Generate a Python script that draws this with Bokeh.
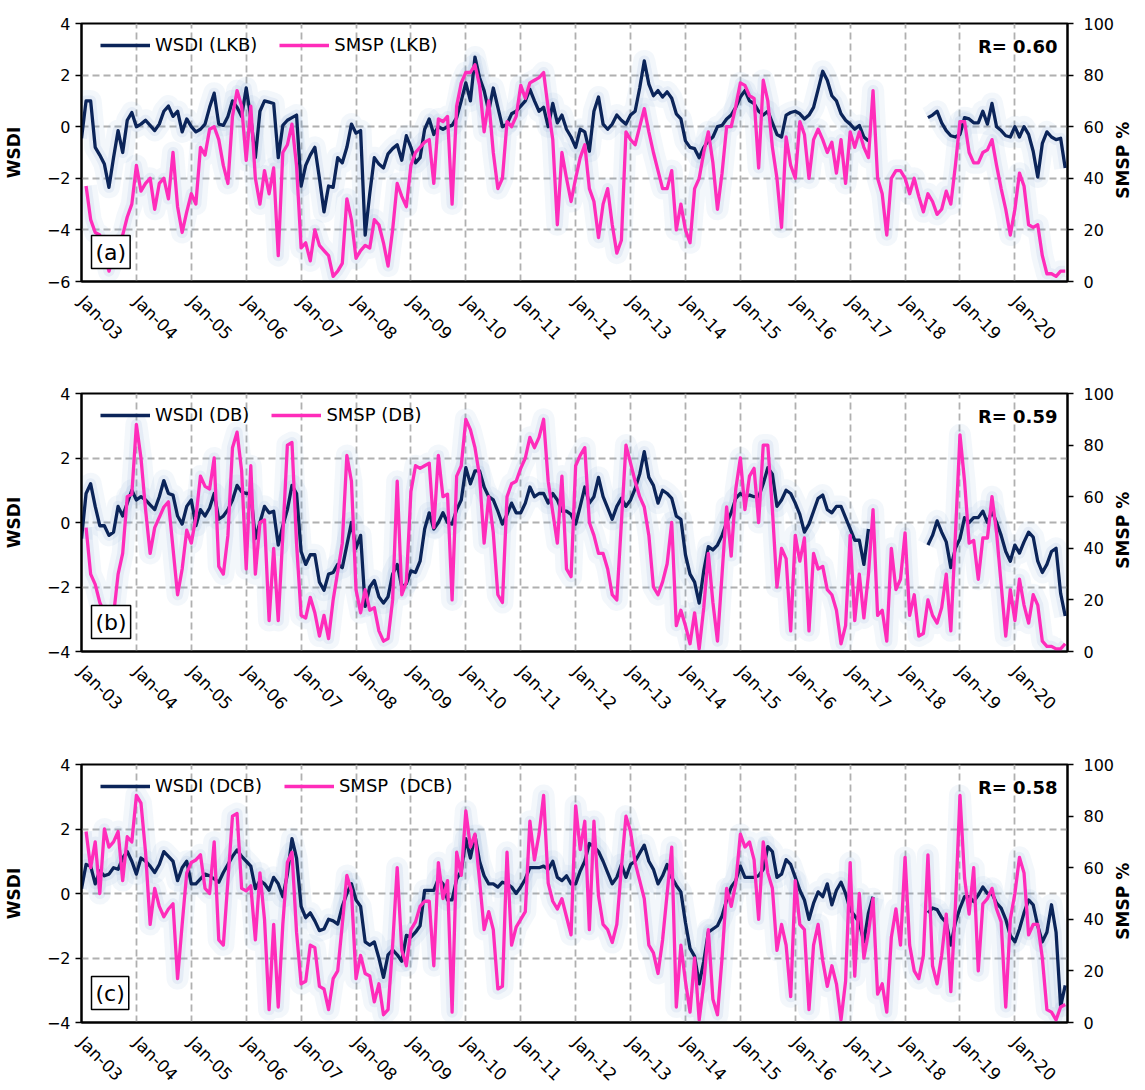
import numpy as np
from math import pi
from bokeh.plotting import figure
from bokeh.models import (Range1d, LinearAxis, FixedTicker, Legend, LegendItem,
                          Label, ColumnDataSource)
from bokeh.layouts import column
from bokeh.embed import file_html
from bokeh.resources import INLINE

N = None
years = list(range(2003, 2021))
months = [f"{m}-{y % 100:02d}" for y in years for m in
          ["Jan", "Feb", "Mar", "Apr", "May", "Jun", "Jul", "Aug", "Sep", "Oct", "Nov", "Dec"]]
tick_labels = [f"Jan-{y % 100:02d}" for y in years]

# ---------------- Panel (a) LKB ----------------
lkb_wsdi = [
    -0.45, 1.0, 1.0, -0.8, -1.1, -1.45, -2.35, -1.2, -0.15, -1.0, 0.25, 0.55,
    0.0, 0.1, 0.25, 0.05, -0.15, 0.1, 0.6, 0.8, 0.4, 0.6, -0.2, 0.3,
    0.0, -0.2, -0.1, 0.1, 0.75, 1.3, 0.1, 0.05, 0.4, 1.0, 0.75, 0.4,
    1.5, 0.35, -1.2, 0.6, 1.0, 0.95, 0.9, -1.2, 0.05, 0.25, 0.35, 0.45,
    -2.3, -1.5, -1.1, -0.8, -2.0, -3.3, -2.3, -2.35, -1.2, -1.4, -0.8, 0.1,
    -0.25, -0.15, -4.2, -2.6, -1.2, -1.45, -1.6, -1.05, -0.85, -0.7, -1.3, -0.35,
    -0.8, -1.4, -1.2, -0.1, 0.3, -0.3, 0.0, -0.1, 0.0, 0.05, 0.35, 1.0,
    1.7, 1.0, 2.7, 1.9, 1.4, 0.6, 1.5, 0.75, 0.0, 0.1, 0.5, 0.6,
    0.8, 1.0, 1.45, 1.0, 0.6, 0.75, 0.0, 0.9, 0.15, 0.45, -0.1, -0.4,
    -0.8, -0.1, -0.2, -0.95, 0.6, 1.15, 0.1, -0.1, 0.1, 0.45, 0.25, 0.1,
    0.45, 0.6, 1.5, 2.55, 1.65, 1.2, 1.4, 1.15, 1.35, 1.1, 0.5, 0.3,
    -0.55, -0.8, -0.85, -1.2, -0.8, -0.55, -0.4, 0.0, 0.05, 0.3, 0.45, 0.75,
    1.15, 1.4, 1.0, 0.9, 0.6, 0.45, 0.6, 0.15, -0.3, -0.4, 0.45, 0.55,
    0.6, 0.5, 0.3, 0.45, 0.75, 1.45, 2.15, 1.8, 1.2, 1.0, 0.5, 0.25,
    0.1, -0.1, 0.05, -0.4, -0.55, N, N, N, N, N, N, N,
    N, N, N, N, N, 0.35, 0.45, 0.6, 0.15, -0.15, -0.35, -0.4,
    -0.3, 0.35, 0.3, 0.15, 0.15, 0.6, 0.1, 0.9, 0.0, -0.15, -0.35, -0.4,
    0.0, -0.4, 0.0, -0.3, -0.95, -1.95, -0.65, -0.2, -0.4, -0.5, -0.45, -1.6,
]
lkb_smsp = [
    N, 37, 24, 19, 18, 11, 4, 10, 16, 18, 25, 30,
    45, 35, 38, 40, 28, 38, 40, 32, 50, 29, 19, 27,
    34, 30, 52, 49, 59, 60, 55, 45, 38, 64, 74, 68,
    47, 68, 40, 30, 43, 34, 44, 10, 50, 53, 61, 45,
    13, 15, 8, 20, 14, 12, 10, 2, 4, 7, 32, 24,
    9, 12, 14, 13, 24, 22, 15, 6, 20, 38, 33, 29,
    45, 50, 52, 54, 55, 38, 63, 62, 64, 30, 68, 77,
    81, 81, 84, 76, 58, 70, 50, 36, 40, 62, 60, 64,
    76, 71, 77, 78, 79, 81, 67, 55, 22, 50, 40, 31,
    40, 48, 53, 36, 31, 17, 30, 36, 22, 11, 16, 58,
    55, 53, 60, 67, 58, 50, 43, 36, 36, 43, 20, 30,
    20, 15, 36, 40, 50, 58, 46, 28, 42, 60, 60, 68,
    77, 76, 72, 71, 44, 78, 70, 52, 40, 21, 56, 45,
    40, 62, 57, 40, 55, 59, 55, 50, 54, 42, 55, 38,
    58, 52, 58, 52, 48, 74, 40, 34, 18, 40, 43, 43,
    40, 34, 40, 33, 27, 34, 31, 26, 28, 35, 30, 45,
    62, 62, 50, 46, 46, 50, 51, 55, 45, 36, 28, 18,
    28, 42, 37, 22, 21, 22, 10, 3, 3, 2, 4, 4,
]

# ---------------- Panel (b) DB ----------------
db_wsdi = [
    -0.5, 0.9, 1.2, 0.5, -0.1, -0.1, -0.4, -0.3, 0.5, 0.2, 0.6, 1.0,
    0.7, 0.8, 0.7, 0.55, 0.4, 0.8, 1.3, 0.9, 0.85, 0.2, -0.05, 0.5,
    0.7, -0.1, 0.4, 0.2, 0.45, 0.9, 0.1, 0.2, 0.4, 0.7, 1.15, 0.95,
    0.9, 0.9, -0.5, 0.0, 0.5, 0.3, 0.35, -0.7, -0.1, 0.4, 1.15, 0.9,
    -0.9, -1.3, -1.0, -1.0, -1.85, -2.1, -1.6, -1.55, -1.3, -1.4, -0.7, 0.0,
    -0.8, -0.4, -2.6, -2.0, -1.8, -2.3, -2.5, -2.3, -1.6, -1.3, -2.0, -1.9,
    -1.5, -1.55, -1.2, -0.2, 0.3, -0.2, 0.0, 0.3, 0.0, -0.05, 0.4, 0.7,
    1.7, 1.2, 1.6, 1.6, 1.1, 0.8, 0.7, 0.35, -0.05, 0.25, 0.6, 0.3,
    0.3, 0.6, 1.1, 0.8, 0.9, 0.9, 0.6, 0.9, 0.7, 0.35, 0.35, 0.25,
    -0.05, 0.5, 1.1, 0.6, 0.8, 1.4, 0.8, 0.45, 0.1, 0.5, 0.75, 0.5,
    0.7, 1.05, 1.5, 2.2, 1.4, 1.15, 0.6, 1.0, 0.9, 0.75, 0.2, 0.1,
    -1.0, -1.6, -1.85, -2.5, -1.5, -0.75, -0.85, -0.7, -0.4, 0.0, 0.3, 0.75,
    0.9, 0.8, 0.85, 0.8, 0.8, 1.2, 1.7, 1.5, 0.5, 0.7, 1.0, 0.9,
    0.6, 0.25, -0.3, -0.05, 0.35, 0.75, 0.85, 0.4, 0.3, 0.5, 0.5, 0.15,
    -0.2, -0.55, -0.55, -1.3, -0.2, N, N, N, N, N, N, N,
    N, N, N, N, N, -0.7, -0.4, 0.05, -0.3, -0.6, -1.4, -0.8,
    -0.5, 0.15, 0.0, 0.15, 0.15, 0.35, 0.0, 0.35, 0.0, -0.4, -0.9, -1.2,
    -0.7, -0.95, -0.6, -0.3, -0.45, -1.2, -1.55, -1.3, -0.9, -0.8, -2.2, -2.9,
]
db_smsp = [
    N, 48, 30, 26, 19, 15, 14, 14, 30, 38, 60, 61,
    88, 75, 55, 38, 48, 52, 56, 58, 40, 22, 32, 47,
    42, 52, 68, 64, 63, 75, 33, 30, 45, 79, 85, 70,
    32, 72, 30, 50, 51, 12, 40, 12, 45, 80, 81, 42,
    14, 13, 21, 15, 6, 14, 5, 20, 31, 42, 76, 66,
    24, 15, 24, 16, 17, 8, 4, 5, 20, 66, 22, 27,
    62, 72, 71, 72, 73, 48, 76, 60, 61, 20, 68, 72,
    90, 86, 79, 68, 42, 60, 46, 22, 19, 60, 65, 66,
    71, 75, 83, 79, 83, 90, 66, 54, 42, 68, 32, 29,
    72, 76, 79, 50, 45, 38, 38, 32, 22, 20, 50, 80,
    73, 66, 60, 56, 45, 25, 22, 27, 34, 50, 10, 16,
    10, 3, 15, 1, 17, 38, 19, 4, 30, 56, 37, 63,
    75, 55, 68, 71, 50, 80, 80, 55, 25, 40, 36, 8,
    45, 35, 44, 8, 38, 32, 33, 24, 22, 16, 3, 10,
    45, 12, 30, 13, 30, 55, 14, 16, 4, 40, 24, 28,
    46, 14, 22, 6, 7, 20, 14, 11, 17, 30, 8, 45,
    84, 66, 42, 43, 28, 44, 44, 60, 46, 26, 6, 24,
    12, 28, 18, 11, 22, 18, 4, 2, 2, 1, 1, 3,
]

# ---------------- Panel (c) DCB ----------------
dcb_wsdi = [
    0.15, 0.9, 0.85, 0.3, 0.7, 0.55, 0.6, 0.8, 0.75, 1.1, 1.3, 1.0,
    0.6, 1.1, 1.0, 0.85, 0.65, 0.9, 1.3, 1.15, 1.0, 0.4, 0.8, 1.0,
    0.3, 0.3, 0.45, 0.6, 0.55, 0.45, 0.35, 0.65, 0.9, 1.15, 1.35, 1.15,
    1.0, 0.85, 0.15, 0.4, 0.3, 0.1, 0.5, 0.3, -0.1, 0.6, 1.7, 1.1,
    -0.4, -0.75, -0.6, -0.85, -1.15, -1.1, -0.8, -0.85, -0.95, -0.4, 0.0, 0.3,
    -0.2, -0.4, -1.5, -1.6, -1.5, -2.0, -2.6, -1.9, -1.75, -1.9, -2.1, -1.3,
    -1.35, -1.2, -1.0, 0.1, 0.1, 0.1, 0.45, 0.3, -0.2, -0.2, 0.45, 0.7,
    1.7, 1.1, 1.8, 1.0, 0.55, 0.3, 0.3, 0.2, 0.35, 0.3, 0.2, 0.0,
    0.2, 0.45, 0.8, 0.8, 0.8, 0.85, 0.75, 1.0, 0.5, 0.4, 0.55, 0.3,
    0.3, 0.7, 1.0, 1.55, 1.45, 1.3, 1.0, 0.65, 0.3, 0.5, 0.9, 0.5,
    0.9, 1.0, 1.25, 1.5, 1.0, 0.75, 0.3, 0.55, 0.9, 0.5, 0.25, 0.05,
    -0.9, -1.7, -1.95, -2.8, -2.1, -1.2, -1.1, -1.0, -0.7, -0.2, 0.2, 0.4,
    0.85, 0.5, 0.5, 0.5, 0.55, 0.75, 1.45, 1.3, 0.5, 0.6, 1.05, 0.9,
    0.5, 0.1, -0.2, -0.8, -0.3, 0.05, -0.1, 0.3, -0.35, 0.1, 0.35, 0.0,
    -0.5, -0.7, -0.9, -1.5, -0.6, -0.1, N, N, N, N, N, N,
    N, N, N, N, N, -0.6, -0.45, -0.5, -0.75, -0.9, -1.6, -0.9,
    -0.45, -0.1, -0.1, -0.25, -0.05, 0.2, 0.0, 0.0, -0.3, -0.45, -0.8, -1.3,
    -1.5, -1.1, -0.6, -0.2, -0.35, -1.0, -1.5, -1.2, -0.35, -1.2, -3.5, -2.85,
]
dcb_smsp = [
    N, 74, 60, 70, 50, 75, 68, 70, 74, 55, 72, 70,
    88, 85, 66, 38, 52, 45, 41, 44, 46, 17, 38, 58,
    62, 63, 65, 52, 50, 70, 32, 30, 55, 80, 81, 52,
    51, 53, 32, 58, 40, 5, 38, 6, 38, 62, 66, 35,
    15, 16, 30, 29, 14, 13, 5, 17, 20, 38, 57, 51,
    17, 26, 19, 18, 8, 15, 3, 5, 30, 60, 28, 22,
    36, 39, 45, 47, 47, 22, 62, 48, 55, 4, 66, 57,
    82, 68, 73, 55, 36, 43, 36, 13, 14, 66, 30, 37,
    40, 43, 78, 63, 73, 88, 54, 47, 44, 48, 41, 34,
    84, 67, 78, 36, 78, 49, 38, 36, 31, 38, 60, 80,
    74, 62, 55, 48, 30, 27, 19, 32, 50, 68, 6, 30,
    16, 4, 25, 1, 15, 36, 9, 3, 25, 52, 45, 54,
    73, 68, 70, 63, 40, 70, 58, 52, 28, 38, 30, 10,
    55, 38, 36, 5, 30, 38, 24, 14, 22, 15, 1, 16,
    62, 18, 50, 25, 35, 48, 11, 15, 4, 33, 44, 30,
    64, 30, 20, 17, 26, 65, 22, 15, 26, 42, 12, 45,
    88, 56, 42, 60, 20, 46, 48, 52, 44, 39, 6, 40,
    50, 64, 58, 34, 38, 38, 25, 5, 4, 1, 6, 7,
]

r_values = ["R= 0.60", "R= 0.59", "R= 0.58"]
panel_tags = ["(a)", "(b)", "(c)"]
wsdi_names = ["WSDI (LKB)", "WSDI (DB)", "WSDI (DCB)"]
smsp_names = ["SMSP (LKB)", "SMSP (DB)", "SMSP  (DCB)"]
smsp_axis_title = "SMSP %"

NAVY = "#0b2459"
PINK = "#ff2cba"
GLOW = "#6a94cf"
FONT = "DejaVu Sans"


def arr(v):
    return np.array([np.nan if a is None else a for a in v], dtype=float)


def make_panel(wsdi, smsp, ylo, yhi, wname, sname, rtext, tag, top, bottom):
    x = np.arange(len(months))
    src = ColumnDataSource(dict(x=x, month=months, wsdi=arr(wsdi), smsp=arr(smsp)))
    p = figure(frame_width=986, frame_height=258, x_range=Range1d(0, 215.5),
               y_range=Range1d(ylo, yhi), output_backend="svg",
               toolbar_location=None, min_border_left=74, min_border_right=76,
               min_border_top=top, min_border_bottom=bottom)
    p.extra_y_ranges = {"smsp": Range1d(0, 100)}
    p.background_fill_color = "white"
    p.border_fill_color = "white"
    p.outline_line_color = "black"
    p.outline_line_width = 2

    # soft speckled halo behind the series
    for col, yr in (("wsdi", "default"), ("smsp", "smsp")):
        p.line("x", col, source=src, y_range_name=yr, color=GLOW,
               line_width=22, line_alpha=0.08, line_join="round")
        p.line("x", col, source=src, y_range_name=yr, color=GLOW,
               line_width=11, line_alpha=0.10, line_join="round")

    rw = p.line("x", "wsdi", source=src, color=NAVY, line_width=3.3,
                line_join="round")
    rs = p.line("x", "smsp", source=src, y_range_name="smsp", color=PINK,
                line_width=3.3, line_join="round")

    # x axis
    xt = list(range(0, 216, 12))
    xa = p.xaxis[0]
    xa.ticker = FixedTicker(ticks=xt)
    xa.major_label_overrides = {t: lab for t, lab in zip(xt, tick_labels)}
    xa.major_label_orientation = -pi / 4
    xa.major_tick_out = 0
    xa.major_tick_in = 0
    xa.minor_tick_out = 0
    xa.minor_tick_in = 0
    xa.axis_line_color = "black"
    xa.axis_line_width = 2
    xa.major_label_text_font = FONT
    xa.major_label_text_font_size = "17px"
    xa.major_label_text_color = "black"
    xa.major_label_standoff = 17

    # left axis
    ya = p.yaxis[0]
    ya.ticker = FixedTicker(ticks=list(range(ylo, yhi + 1, 2)))
    ya.major_tick_out = 6
    ya.major_tick_in = 0
    ya.minor_tick_out = 0
    ya.minor_tick_in = 0
    ya.axis_line_color = "black"
    ya.axis_line_width = 2
    ya.major_tick_line_width = 1.5
    ya.major_label_text_font = FONT
    ya.major_label_text_font_size = "16px"
    ya.major_label_text_color = "black"
    ya.major_label_standoff = 5
    ya.axis_label = "WSDI"
    ya.axis_label_text_font = FONT
    ya.axis_label_text_font_style = "bold"
    ya.axis_label_text_font_size = "17px"
    ya.axis_label_text_color = "black"
    ya.axis_label_standoff = 20

    # right axis (title reads bottom-to-top; it starts at the axis start,
    # so it is pushed up to the middle with non-breaking spaces)
    ra = LinearAxis(y_range_name="smsp", ticker=FixedTicker(ticks=list(range(0, 101, 20))))
    ra.major_tick_out = 6
    ra.major_tick_in = 0
    ra.minor_tick_out = 0
    ra.minor_tick_in = 0
    ra.axis_line_color = "black"
    ra.axis_line_width = 2
    ra.major_tick_line_width = 1.5
    ra.major_label_text_font = FONT
    ra.major_label_text_font_size = "16px"
    ra.major_label_text_color = "black"
    ra.major_label_standoff = 10
    ra.axis_label_text_font = FONT
    ra.axis_label_text_font_style = "bold"
    ra.axis_label_text_font_size = "17px"
    ra.axis_label_text_color = "black"
    ra.axis_label_standoff = 6
    try:
        ra.axis_label_orientation = pi / 2
        ra.axis_label_align = "start"
        ra.axis_label = "\u00a0" * 14 + smsp_axis_title
    except Exception:
        ra.axis_label = smsp_axis_title
    p.add_layout(ra, "right")

    # grids
    p.xgrid.ticker = FixedTicker(ticks=xt)
    p.ygrid.ticker = FixedTicker(ticks=list(range(ylo, yhi + 1, 2)))
    for g in (p.xgrid[0], p.ygrid[0]):
        g.grid_line_color = "#b0b0b0"
        g.grid_line_dash = "7 4"
        g.grid_line_width = 1.8

    # legend
    leg = Legend(items=[LegendItem(label=wname, renderers=[rw]),
                        LegendItem(label=sname, renderers=[rs])],
                 orientation="horizontal", location=(14, 221),
                 border_line_alpha=0, background_fill_alpha=0,
                 label_text_font=FONT, label_text_font_size="18px",
                 label_text_color="black", glyph_width=50, glyph_height=20,
                 label_standoff=5, spacing=22, padding=5, margin=0)
    p.add_layout(leg)

    # R label
    p.add_layout(Label(x=976, y=235, x_units="screen", y_units="screen",
                       text=rtext, text_align="right", text_baseline="middle",
                       text_font=FONT, text_font_style="bold",
                       text_font_size="18px", text_color="black"))
    # panel tag in a box
    p.add_layout(Label(x=10, y=13, x_units="screen", y_units="screen",
                       text=tag, text_align="left", text_baseline="bottom",
                       text_font=FONT, text_font_size="22px", text_color="black",
                       border_line_color="black", border_line_width=1.5,
                       background_fill_color="white", padding=4))
    return p


pa = make_panel(lkb_wsdi, lkb_smsp, -6, 4, wsdi_names[0], smsp_names[0],
                r_values[0], panel_tags[0], 23, 97)
pb = make_panel(db_wsdi, db_smsp, -4, 4, wsdi_names[1], smsp_names[1],
                r_values[1], panel_tags[1], 15, 98)
pc = make_panel(dcb_wsdi, dcb_smsp, -4, 4, wsdi_names[2], smsp_names[2],
                r_values[2], panel_tags[2], 15, 60)

layout = column(pa, pb, pc, spacing=0)
open("out.html", "w").write(file_html(layout, INLINE))
